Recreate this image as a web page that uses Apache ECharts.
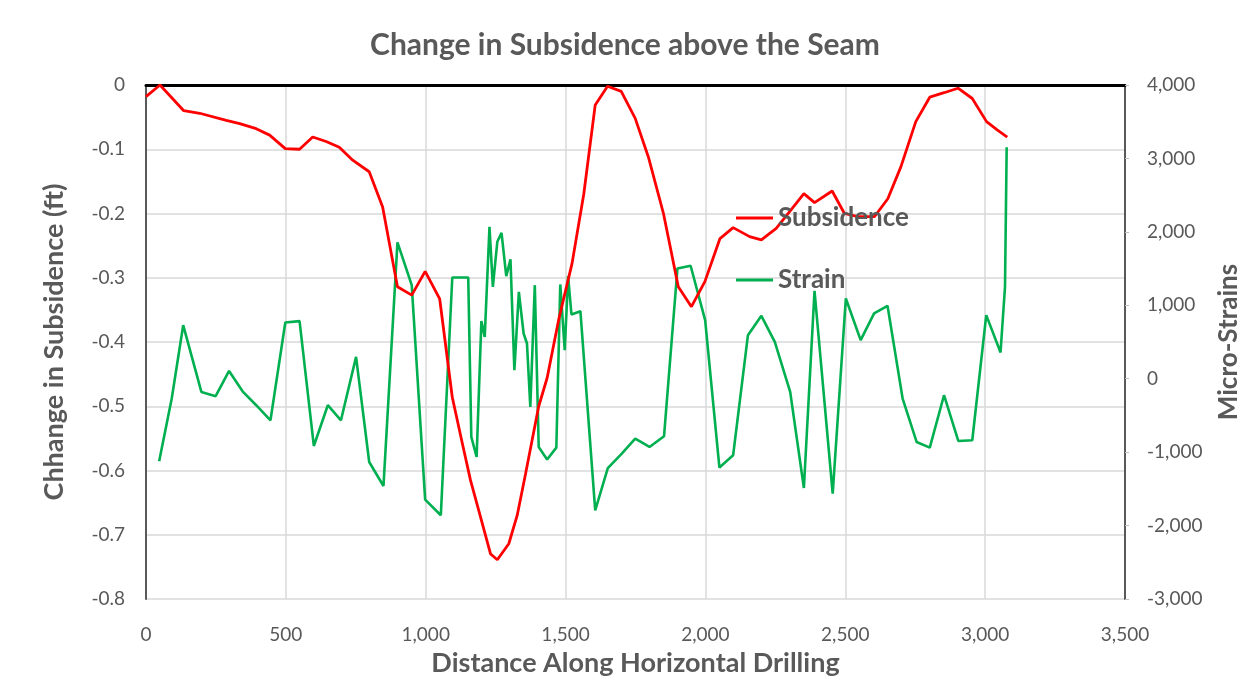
<!DOCTYPE html>
<html>
<head>
<meta charset="utf-8">
<script src="https://cdn.jsdelivr.net/npm/echarts@6/dist/echarts.min.js"></script>
<style>
html,body{margin:0;padding:0;background:#fff;}
#chart{width:1250px;height:694px;}
</style>
</head>
<body>
<div id="chart"></div>
<script>
// ---- data ----
const subsDist = [0, 50, 135, 192, 287, 335, 394, 442, 498, 549, 596, 644, 691, 739, 798, 846, 899, 950, 998, 1050, 1095, 1131, 1160, 1190, 1232, 1256, 1297, 1327, 1357, 1404, 1434, 1475, 1523, 1565, 1606, 1650, 1699, 1749, 1796, 1850, 1903, 1950, 1998, 2052, 2099, 2158, 2200, 2253, 2301, 2352, 2390, 2453, 2497, 2545, 2604, 2652, 2699, 2752, 2802, 2853, 2903, 2954, 3005, 3043, 3079];
const subsVal = [-0.018, 0.0, -0.04, -0.044, -0.055, -0.06, -0.068, -0.078, -0.099, -0.1, -0.081, -0.088, -0.097, -0.117, -0.135, -0.19, -0.314, -0.327, -0.29, -0.333, -0.486, -0.558, -0.615, -0.663, -0.73, -0.739, -0.714, -0.67, -0.605, -0.5, -0.456, -0.366, -0.278, -0.17, -0.031, -0.002, -0.01, -0.052, -0.112, -0.2, -0.314, -0.345, -0.306, -0.239, -0.222, -0.236, -0.241, -0.223, -0.197, -0.169, -0.183, -0.165, -0.2, -0.205, -0.205, -0.177, -0.127, -0.057, -0.019, -0.012, -0.005, -0.021, -0.057, -0.07, -0.081];

const strainDist = [47, 92, 133, 198, 249, 297, 347, 394, 445, 498, 549, 600, 650, 697, 751, 798, 849, 899, 950, 998, 1054, 1095, 1152, 1163, 1182, 1199, 1211, 1228, 1240, 1256, 1271, 1288, 1303, 1317, 1333, 1350, 1362, 1374, 1390, 1404, 1434, 1467, 1481, 1497, 1509, 1521, 1553, 1606, 1651, 1701, 1749, 1800, 1852, 1900, 1947, 1999, 2050, 2099, 2152, 2200, 2248, 2303, 2352, 2390, 2455, 2502, 2555, 2603, 2651, 2705, 2755, 2802, 2853, 2904, 2954, 3004, 3055, 3071, 3077];
const strainVal = [-1124, -270, 729, -180, -238, 106, -180, -361, -566, 766, 784, -916, -361, -566, 297, -1134, -1461, 1856, 1274, -1647, -1860, 1379, 1379, -793, -1066, 784, 570, 2069, 1251, 1865, 1987, 1397, 1625, 116, 1183, 616, 480, -384, 1274, -930, -1101, -938, 1284, 388, 1397, 875, 920, -1792, -1217, -1019, -815, -929, -784, 1502, 1538, 797, -1210, -1043, 593, 856, 502, -180, -1488, 1197, -1565, 1093, 525, 889, 993, -270, -861, -938, -225, -848, -838, 866, 357, 1251, 3151];

const xTicks = {min: 0, max: 3500, interval: 500};
const leftTicks = {min: -0.8, max: 0, interval: 0.1};
const rightTicks = {min: -3000, max: 4000, interval: 1000};

const titleText = 'Change in Subsidence above the Seam';
const xName = 'Distance Along Horizontal Drilling';
const leftName = 'Chhange in Subsidence (ft)';
const rightName = 'Micro-Strains';
const seriesNames = ['Subsidence', 'Strain'];
const seriesColors = ['#ff0000', '#00b050'];

// ---- build ----
const FONT = 'Lato, "Open Sans", sans-serif';
const GRAY = '#595959';
const fmtThousands = v => {
  const s = Math.abs(v).toString().replace(/\B(?=(\d{3})+(?!\d))/g, ',');
  return (v < 0 ? '-' : '') + s;
};
const pairs = (xs, ys) => xs.map((x, i) => [x, ys[i]]);

const chart = echarts.init(document.getElementById('chart'), null, {renderer: 'canvas'});
chart.setOption({
  backgroundColor: '#fff',
  animation: false,
  title: {
    text: titleText, left: 'center', top: 25,
    textStyle: {fontFamily: FONT, fontSize: 30, fontWeight: 'bold', color: GRAY}
  },
  legend: {
    orient: 'vertical', left: 731, top: 200, itemGap: 36,
    itemWidth: 37, itemHeight: 3, icon: 'rect',
    data: seriesNames,
    textStyle: {fontFamily: FONT, fontSize: 26, fontWeight: 'bold', color: GRAY}
  },
  grid: {left: 146, right: 122, top: 85, bottom: 95},
  xAxis: [{
    type: 'value', position: 'bottom', min: xTicks.min, max: xTicks.max, interval: xTicks.interval,
    name: xName, nameLocation: 'middle', nameGap: 51,
    nameTextStyle: {fontFamily: FONT, fontSize: 27, fontWeight: 'bold', color: GRAY},
    axisLine: {show: true, lineStyle: {color: '#7f7f7f', width: 2}},
    axisTick: {show: false},
    axisLabel: {fontFamily: FONT, fontSize: 19, color: GRAY, margin: 26, formatter: fmtThousands},
    splitLine: {show: true, lineStyle: {color: '#d9d9d9', width: 1.5}}
  }, {
    type: 'value', position: 'top', min: xTicks.min, max: xTicks.max, interval: xTicks.interval,
    axisLine: {show: true, onZero: false, lineStyle: {color: '#000', width: 3}},
    axisTick: {show: false}, axisLabel: {show: false}, splitLine: {show: false}
  }],
  yAxis: [{
    type: 'value', position: 'left', min: leftTicks.min, max: leftTicks.max, interval: leftTicks.interval,
    name: leftName, nameLocation: 'middle', nameGap: 78,
    nameTextStyle: {fontFamily: FONT, fontSize: 27, fontWeight: 'bold', color: GRAY},
    axisLine: {show: true, onZero: false, lineStyle: {color: '#595959', width: 2}},
    axisTick: {show: false},
    axisLabel: {fontFamily: FONT, fontSize: 19, color: GRAY, margin: 21,
      formatter: v => (Math.round(v * 10) / 10).toString()},
    splitLine: {show: true, lineStyle: {color: '#d9d9d9', width: 1.5}}
  }, {
    type: 'value', position: 'right', min: rightTicks.min, max: rightTicks.max, interval: rightTicks.interval,
    name: rightName, nameLocation: 'middle', nameGap: 91, nameRotate: 90,
    nameTextStyle: {fontFamily: FONT, fontSize: 26, fontWeight: 'bold', color: GRAY},
    axisLine: {show: true, onZero: false, lineStyle: {color: '#595959', width: 2}},
    axisTick: {show: true, length: 4, lineStyle: {color: '#bfbfbf'}},
    axisLabel: {fontFamily: FONT, fontSize: 19, color: GRAY, margin: 22, formatter: fmtThousands},
    splitLine: {show: false}
  }],
  series: [{
    name: seriesNames[0], type: 'line', xAxisIndex: 0, yAxisIndex: 0,
    data: pairs(subsDist, subsVal), symbol: 'none', smooth: false,
    lineStyle: {color: seriesColors[0], width: 2.8}, itemStyle: {color: seriesColors[0]}, z: 3
  }, {
    name: seriesNames[1], type: 'line', xAxisIndex: 0, yAxisIndex: 1,
    data: pairs(strainDist, strainVal), symbol: 'none', smooth: false,
    lineStyle: {color: seriesColors[1], width: 2.6}, itemStyle: {color: seriesColors[1]}, z: 2
  }]
});
</script>
</body>
</html>
